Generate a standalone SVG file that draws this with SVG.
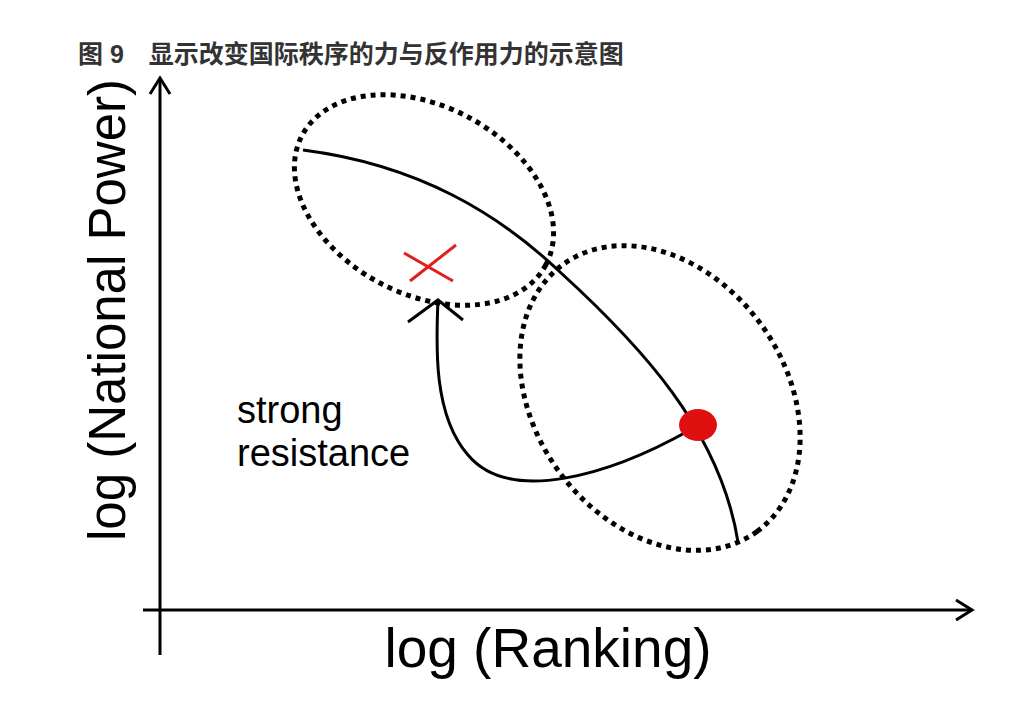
<svg xmlns="http://www.w3.org/2000/svg" width="1024" height="726" viewBox="0 0 1024 726">
<style>
.ax{stroke:#000;stroke-width:3;fill:none}
.dot{stroke:#000;stroke-width:5;fill:none;stroke-dasharray:5 5}
.ln{stroke:#000;stroke-width:3;fill:none}
.t{font-family:"Liberation Sans",Arial,sans-serif;fill:#000}
</style>
<rect width="1024" height="726" fill="#fff"/>
<text x="78" y="63" font-size="25" font-weight="bold" fill="#333" style="font-family:'Liberation Sans','Noto Sans CJK SC',sans-serif">图 9　显示改变国际秩序的力与反作用力的示意图</text>
<g id="axes">
<path class="ax" d="M160,655 V80 M143,610 H970"/>
<path class="ax" d="M150,94 L160,78 L170,94 M956,600 L972,610 L956,620"/>
</g>
<g id="ellipse1"><ellipse class="dot" cx="424" cy="200" rx="138" ry="94" transform="rotate(28 424 200)"/></g>
<g id="ellipse2"><ellipse class="dot" cx="660" cy="398" rx="165" ry="125" transform="rotate(54 660 398)"/></g>
<g id="connectors">
<path class="ln" d="M303,150 C420,165 500,215 560,272 C640,345 720,430 738,542"/>
<path class="ln" d="M690,430 C610,475 510,505 468,455 C433,415 436,345 438,300"/>
<path class="ln" d="M408,322 L438,300 L463,320"/>
</g>
<g id="cross"><path d="M404,253 L453,281 M410,281 L456,245" stroke="#e02020" stroke-width="3" fill="none"/></g>
<g id="dot"><ellipse cx="698" cy="425" rx="19" ry="16" fill="#e01010"/></g>
<text class="t" x="237" y="423" font-size="38">strong</text>
<text class="t" x="237" y="466" font-size="38">resistance</text>
<text class="t" x="548" y="667" font-size="55" text-anchor="middle">log (Ranking)</text>
<text class="t" x="0" y="0" font-size="51" text-anchor="middle" transform="translate(125,310) rotate(-90)">log (National Power)</text>
</svg>
